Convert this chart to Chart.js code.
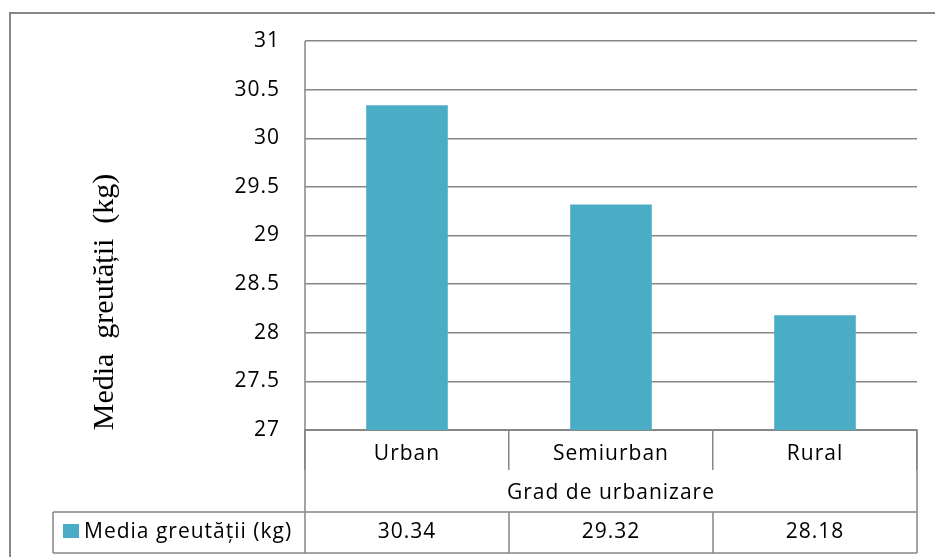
<!DOCTYPE html>
<html>
<head>
<meta charset="utf-8">
<script src="https://cdn.jsdelivr.net/npm/chart.js@4"></script>
<style>
html, body { margin: 0; padding: 0; background: #fff; }
canvas { display: block; }
</style>
</head>
<body>
<canvas id="myChart" width="935" height="557"></canvas>
<script>
const categories = ['Urban', 'Semiurban', 'Rural'];
const seriesName = 'Media greutății (kg)';
const seriesValues = [30.34, 29.32, 28.18];
const yTicks = [27, 27.5, 28, 28.5, 29, 29.5, 30, 30.5, 31];
const xTitle = 'Grad de urbanizare';
const yTitle = 'Media  greutății  (kg)';

const barColor = '#4bacc6';
const lineColor = '#878787';
const sansFont = "'Open Sans', sans-serif";
const fontSize = 21;

// draws the frame, the data table under the axis and both axis titles
const tablePlugin = {
    id: 'dataTable',
    beforeDraw(chart) {
        chart.ctx.letterSpacing = '1px';
    },
    afterDraw(chart) {
        const ctx = chart.ctx;
        const x = chart.scales.x;
        const area = chart.chartArea;
        const rowTop = 512, rowBottom = 553, keyLeft = 53;

        ctx.save();
        ctx.strokeStyle = lineColor;
        ctx.lineWidth = 2;

        // outer frame (cut off at right and bottom)
        ctx.beginPath();
        ctx.moveTo(10, 557);
        ctx.lineTo(10, 13);
        ctx.lineTo(935, 13);
        ctx.stroke();

        ctx.lineWidth = 1.5;
        ctx.beginPath();
        // left axis line down through the table
        ctx.moveTo(area.left, area.top);
        ctx.lineTo(area.left, rowBottom);
        // right edge below the plot
        ctx.moveTo(area.right, area.bottom);
        ctx.lineTo(area.right, rowBottom);
        // data row
        ctx.moveTo(keyLeft, rowTop);
        ctx.lineTo(area.right, rowTop);
        ctx.moveTo(keyLeft, rowBottom);
        ctx.lineTo(area.right, rowBottom);
        ctx.moveTo(keyLeft, rowTop);
        ctx.lineTo(keyLeft, rowBottom);
        const half = (area.right - area.left) / categories.length / 2;
        for (let i = 1; i < categories.length; i++) {
            const bx = x.getPixelForValue(i) - half;
            ctx.moveTo(bx, rowTop);
            ctx.lineTo(bx, rowBottom);
        }
        ctx.stroke();

        // legend key
        ctx.fillStyle = barColor;
        ctx.fillRect(63, 524, 16, 14);

        ctx.fillStyle = '#000';
        ctx.font = fontSize + 'px ' + sansFont;
        ctx.letterSpacing = '1px';
        ctx.textBaseline = 'middle';
        ctx.textAlign = 'left';
        ctx.fillText(seriesName, 84, 532);

        ctx.textAlign = 'center';
        seriesValues.forEach((v, i) => {
            ctx.fillText(v.toFixed(2), x.getPixelForValue(i), 532);
        });

        // x axis title
        ctx.fillText(xTitle, (area.left + area.right) / 2, 493);

        // y axis title
        ctx.letterSpacing = '0px';
        ctx.translate(105, 302);
        ctx.rotate(-Math.PI / 2);
        ctx.font = "30px 'Liberation Serif', serif";
        ctx.fillText(yTitle, 0, 0);
        ctx.restore();
    }
};

const ctx = document.getElementById('myChart').getContext('2d');
const myChart = new Chart(ctx, {
    type: 'bar',
    data: {
        labels: categories,
        datasets: [{
            label: seriesName,
            data: seriesValues,
            backgroundColor: barColor,
            borderWidth: 0,
            categoryPercentage: 0.8,
            barPercentage: 0.5
        }]
    },
    options: {
        responsive: false,
        animation: false,
        layout: { padding: { left: 0, top: 41, right: 18, bottom: 0 } },
        plugins: {
            legend: { display: false },
            tooltip: { enabled: false }
        },
        scales: {
            x: {
                afterFit: scale => { scale.height = 127; },
                grid: {
                    offset: true,
                    drawOnChartArea: false,
                    drawTicks: true,
                    tickLength: 40,
                    color: lineColor,
                    lineWidth: 1.5
                },
                border: { color: lineColor, width: 2 },
                ticks: {
                    color: '#000',
                    padding: -29,
                    font: { family: sansFont, size: fontSize }
                }
            },
            y: {
                min: yTicks[0],
                max: yTicks[yTicks.length - 1],
                afterFit: scale => { scale.width = 305; },
                grid: {
                    drawTicks: false,
                    color: lineColor,
                    lineWidth: 1.5
                },
                border: { display: false },
                ticks: {
                    stepSize: yTicks[1] - yTicks[0],
                    color: '#000',
                    padding: 25,
                    font: { family: sansFont, size: fontSize },
                    callback: value => String(value)
                }
            }
        }
    },
    plugins: [tablePlugin]
});
</script>
</body>
</html>
